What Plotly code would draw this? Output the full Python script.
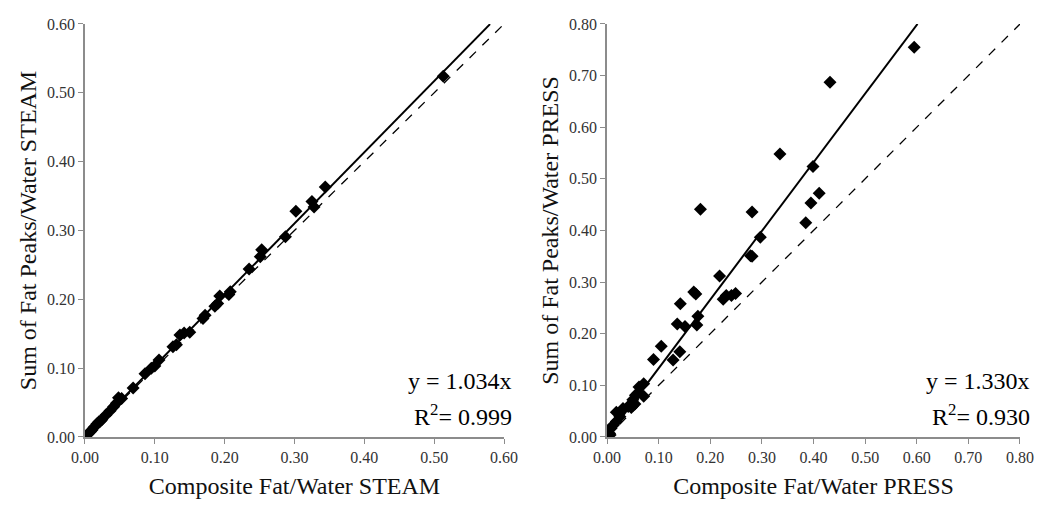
import plotly.graph_objects as go

# STEAM panel
steam_x = [0.005, 0.008, 0.010, 0.013, 0.017, 0.020, 0.022, 0.024, 0.030, 0.036, 0.041,
           0.045, 0.048, 0.0525, 0.069, 0.086, 0.095, 0.100, 0.106, 0.126, 0.131, 0.136,
           0.142, 0.150, 0.169, 0.172, 0.186, 0.190, 0.193, 0.206, 0.208, 0.235, 0.251,
           0.253, 0.287, 0.302, 0.325, 0.328, 0.344, 0.513]
steam_y = [0.005, 0.008, 0.010, 0.014, 0.019, 0.022, 0.023, 0.025, 0.032, 0.038, 0.044,
           0.049, 0.057, 0.056, 0.071, 0.092, 0.100, 0.103, 0.112, 0.131, 0.134, 0.148,
           0.151, 0.152, 0.172, 0.177, 0.190, 0.194, 0.205, 0.207, 0.211, 0.244, 0.262,
           0.272, 0.291, 0.328, 0.342, 0.334, 0.363, 0.524]

# PRESS panel
press_x = [0.005, 0.006, 0.008, 0.012, 0.018, 0.018, 0.025, 0.031, 0.041, 0.047, 0.050,
           0.054, 0.055, 0.060, 0.062, 0.071, 0.071, 0.090, 0.105, 0.128, 0.136, 0.141,
           0.142, 0.151, 0.168, 0.172, 0.174, 0.176, 0.181, 0.218, 0.225, 0.231, 0.241,
           0.249, 0.278, 0.281, 0.281, 0.297, 0.335, 0.385, 0.395, 0.399, 0.411, 0.432,
           0.595]
press_y = [0.007, 0.004, 0.017, 0.023, 0.048, 0.030, 0.039, 0.055, 0.059, 0.057, 0.072,
           0.064, 0.081, 0.085, 0.097, 0.103, 0.079, 0.150, 0.176, 0.149, 0.219, 0.165,
           0.258, 0.214, 0.281, 0.277, 0.217, 0.234, 0.441, 0.312, 0.267, 0.274, 0.274,
           0.278, 0.351, 0.350, 0.436, 0.387, 0.548, 0.415, 0.453, 0.524, 0.472, 0.687,
           0.755]

steam_slope = 1.034
press_slope = 1.330
steam_fit_x = [0, 0.58]
press_fit_x = [0, 0.6015]
steam_ident_x = [0, 0.60]
press_ident_x = [0, 0.80]

tick_font = dict(family="Liberation Serif", size=16, color="#333333")
title_font = dict(family="Liberation Serif", size=24, color="#111111")

fig = go.Figure()

# left panel
fig.add_trace(go.Scatter(x=steam_ident_x, y=steam_ident_x, mode="lines",
                         line=dict(color="black", width=1.3, dash="dash"),
                         xaxis="x", yaxis="y", showlegend=False))
fig.add_trace(go.Scatter(x=steam_fit_x, y=[v * steam_slope for v in steam_fit_x],
                         mode="lines", line=dict(color="black", width=2),
                         xaxis="x", yaxis="y", showlegend=False))
fig.add_trace(go.Scatter(x=steam_x, y=steam_y, mode="markers",
                         marker=dict(symbol="diamond", size=10, color="black"),
                         xaxis="x", yaxis="y", showlegend=False))

# right panel
fig.add_trace(go.Scatter(x=press_ident_x, y=press_ident_x, mode="lines",
                         line=dict(color="black", width=1.3, dash="dash"),
                         xaxis="x2", yaxis="y2", showlegend=False))
fig.add_trace(go.Scatter(x=press_fit_x, y=[v * press_slope for v in press_fit_x],
                         mode="lines", line=dict(color="black", width=2),
                         xaxis="x2", yaxis="y2", showlegend=False))
fig.add_trace(go.Scatter(x=press_x, y=press_y, mode="markers",
                         marker=dict(symbol="diamond", size=10, color="black"),
                         xaxis="x2", yaxis="y2", showlegend=False))

axis_common = dict(showgrid=False, zeroline=False, showline=True, linecolor="#8c8c8c",
                   linewidth=1.5, ticks="outside", ticklen=5, tickcolor="#8c8c8c",
                   tickfont=tick_font, tickformat=".2f", automargin=False)

# page body adds 8px offset, domains are shifted to compensate
fig.update_layout(
    width=1050, height=515,
    margin=dict(l=0, r=0, t=0, b=0),
    plot_bgcolor="white", paper_bgcolor="white",
    xaxis=dict(domain=[0.0733, 0.4724], range=[0, 0.6], dtick=0.1, anchor="y",
               title=dict(text="Composite Fat/Water STEAM", standoff=12, font=title_font),
               **axis_common),
    yaxis=dict(domain=[0.167, 0.969], range=[0, 0.6], dtick=0.1, anchor="x",
               title=dict(text="Sum of Fat Peaks/Water STEAM", standoff=4, font=title_font),
               **axis_common),
    xaxis2=dict(domain=[0.5705, 0.9638], range=[0, 0.8], dtick=0.1, anchor="y2",
                title=dict(text="Composite Fat/Water PRESS", standoff=12, font=title_font),
                **axis_common),
    yaxis2=dict(domain=[0.167, 0.969], range=[0, 0.8], dtick=0.1, anchor="x2",
                title=dict(text="Sum of Fat Peaks/Water PRESS", standoff=4, font=title_font),
                **axis_common),
)

ann_font = dict(family="Liberation Serif", size=24, color="black")
fig.add_annotation(x=1.024, y=0.099, xref="x domain", yref="y domain", xanchor="right",
                   text="y = 1.034x", showarrow=False, font=ann_font)
fig.add_annotation(x=1.024, y=0.012, xref="x domain", yref="y domain", xanchor="right",
                   text="R<sup>2</sup>= 0.999", showarrow=False, font=ann_font)
fig.add_annotation(x=1.029, y=0.099, xref="x2 domain", yref="y2 domain", xanchor="right",
                   text="y = 1.330x", showarrow=False, font=ann_font)
fig.add_annotation(x=1.029, y=0.012, xref="x2 domain", yref="y2 domain", xanchor="right",
                   text="R<sup>2</sup>= 0.930", showarrow=False, font=ann_font)

fig.write_html("out.html")
